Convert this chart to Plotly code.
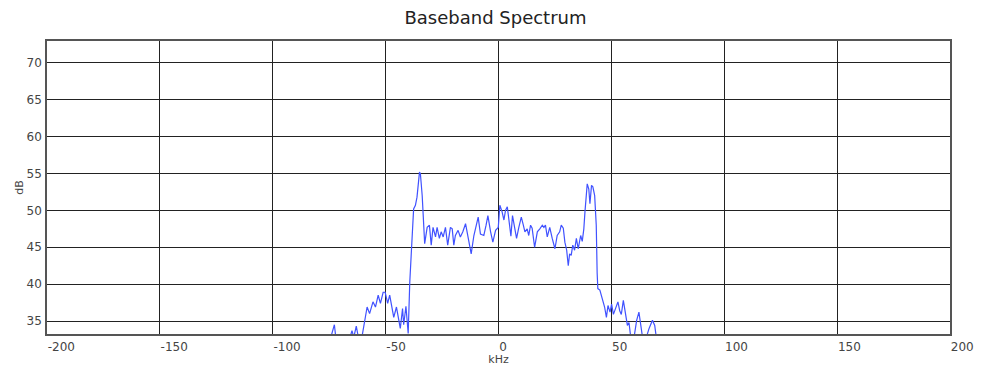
import plotly.graph_objects as go

# Frequency (kHz) and level (dB)
khz = [-75.0, -72.7, -71.8, -66.5, -64.9, -64.1, -63.0, -61.9, -60.4, -59.4,
       -58.2, -57.1, -55.6, -54.5, -53.3, -52.3, -51.1, -50.2, -49.1, -48.2,
       -47.4, -46.4, -45.2, -44.3, -43.5, -42.5, -42.0, -41.0, -40.5, -40.0,
       -39.3, -38.3, -37.6, -36.8, -36.1, -35.0, -34.6, -33.8, -33.1, -32.7,
       -31.6, -30.6, -29.8, -29.0, -27.9, -27.2, -26.2, -25.4, -24.5, -23.5,
       -22.5, -21.3, -20.5, -19.8, -19.1, -17.9, -16.9, -15.8, -14.6, -13.4,
       -12.1, -10.9, -9.9, -9.0, -8.0, -6.5, -5.5, -4.7, -3.5, -2.5,
       -1.3, -0.1, 0.6, 1.6, 2.4, 3.1, 3.9, 4.9, 5.5, 6.2,
       6.8, 8.0, 9.0, 10.1, 11.0, 11.7, 12.7, 13.4, 14.2, 14.9,
       16.0, 17.2, 18.3, 19.4, 20.1, 20.8, 21.6, 22.7, 23.8, 25.0,
       26.0, 27.1, 27.8, 28.7, 29.4, 30.2, 30.9, 31.5, 32.2, 32.9,
       33.7, 34.5, 35.3, 36.4, 37.1, 37.8, 38.3, 38.9, 39.3, 40.0,
       40.5, 41.2, 41.8, 42.6, 43.3, 43.7, 44.0, 44.9, 46.0, 47.0,
       47.8, 48.5, 49.4, 50.1, 50.9, 51.9, 52.9, 53.7, 54.4, 55.3,
       56.0, 57.1, 57.8, 58.5, 59.9, 61.2, 62.2, 63.0, 63.7, 65.2,
       66.7, 68.2, 69.2, 69.9, 71.0]
db = [32.0, 34.5, 32.0, 32.0, 33.7, 32.8, 34.3, 32.5, 33.0, 35.0,
      36.9, 36.0, 37.6, 36.9, 38.5, 37.4, 38.9, 38.9, 37.4, 38.5,
      37.0, 35.5, 36.9, 35.5, 34.0, 36.7, 34.5, 37.0, 34.3, 33.3,
      40.3, 47.1, 50.2, 50.7, 51.8, 55.2, 55.0, 52.0, 48.4, 45.5,
      47.7, 48.0, 45.3, 47.7, 46.4, 47.7, 46.2, 47.1, 46.4, 47.7,
      45.3, 47.7, 47.5, 45.3, 46.6, 47.3, 46.4, 47.1, 48.2, 46.4,
      44.1, 46.6, 48.2, 49.1, 46.8, 46.6, 48.0, 49.3, 47.1, 45.7,
      47.3, 47.7, 50.7, 49.8, 48.7, 50.0, 50.5, 48.4, 46.5, 49.3,
      48.4, 46.2, 47.7, 49.1, 48.0, 47.1, 47.5, 46.6, 48.0, 47.6,
      45.0, 47.1, 47.5, 48.0, 47.7, 48.0, 46.4, 47.7, 46.2, 44.8,
      46.6, 47.1, 48.0, 47.6, 45.7, 44.6, 42.5, 44.1, 43.9, 45.3,
      44.6, 46.2, 44.8, 46.6, 45.8, 47.5, 49.8, 51.6, 53.6, 52.9,
      50.9, 53.4, 53.2, 52.0, 48.0, 41.5, 39.4, 39.2, 38.0, 36.9,
      35.5, 37.1, 36.2, 37.3, 35.9, 36.9, 37.6, 36.4, 35.9, 37.8,
      36.4, 34.4, 34.8, 33.0, 32.5, 35.1, 36.2, 34.6, 33.0, 32.5,
      34.0, 35.1, 34.4, 32.8, 32.0]

x_ticks = [-200, -150, -100, -50, 0, 50, 100, 150, 200]
y_ticks = [35, 40, 45, 50, 55, 60, 65, 70]

fig = go.Figure()
fig.add_trace(go.Scatter(x=khz, y=db, mode="lines",
                         line=dict(color="#4052ff", width=1.2),
                         showlegend=False, hoverinfo="x+y"))

font_family = "DejaVu Sans, Verdana, sans-serif"
fig.update_layout(
    width=991, height=366,
    margin=dict(l=47, r=41, t=41, b=32, autoexpand=False),
    paper_bgcolor="white", plot_bgcolor="white",
    title=dict(text="Baseband Spectrum", x=0.5, xanchor="center",
               y=1 - 18 / 366, yanchor="middle", automargin=False,
               font=dict(family=font_family, size=18, color="#222")),
    font=dict(family=font_family, size=12, color="#444"),
)
fig.update_xaxes(
    range=[-200, 200], tickvals=x_ticks, ticktext=[str(v) for v in x_ticks],
    showgrid=True, gridcolor="#222", gridwidth=1.3,
    showline=True, linecolor="#555", linewidth=1.5, mirror=True,
    zeroline=False, ticks="", ticklabelposition="outside right",
    ticklabelstandoff=1, automargin=False,
    title=dict(text="kHz", standoff=0, font=dict(size=11, color="#444")),
    tickfont=dict(size=12, color="#444"),
)
fig.update_yaxes(
    range=[33.24, 72.98], tickvals=y_ticks, ticktext=[str(v) for v in y_ticks],
    showgrid=True, gridcolor="#222", gridwidth=1.3,
    showline=True, linecolor="#555", linewidth=1.5, mirror=True,
    zeroline=False, ticks="", ticklabelstandoff=1, automargin=False,
    title=dict(text="dB", standoff=1, font=dict(size=11, color="#444")),
    tickfont=dict(size=12, color="#444"),
)

fig.write_html("out.html", config={"displayModeBar": False},
               post_script="document.body.style.margin='0';document.body.style.overflow='hidden';")
